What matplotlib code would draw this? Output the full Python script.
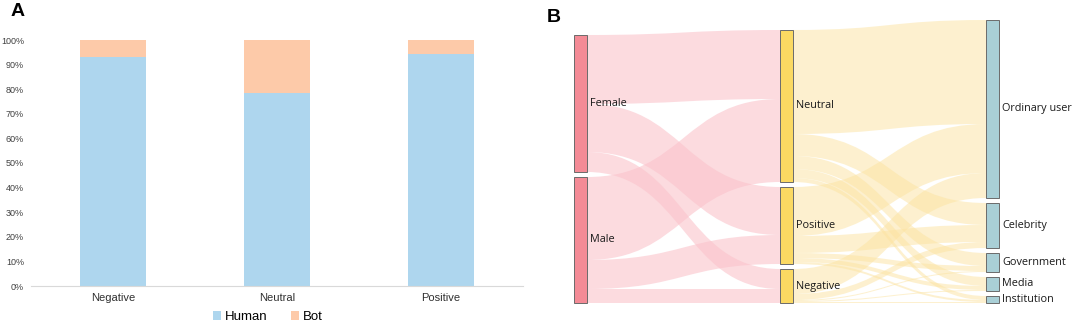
import matplotlib
matplotlib.use("Agg")
import matplotlib.pyplot as plt
from matplotlib.path import Path
from matplotlib.patches import PathPatch, Rectangle
import numpy as np

# Datos panel A
categories = ['Negative', 'Neutral', 'Positive']
human_share = [0.93, 0.785, 0.945]
bot_share = [0.07, 0.215, 0.055]

# Datos panel B (sankey)
genders = ['Female', 'Male']
sentiments = ['Neutral', 'Positive', 'Negative']
user_types = ['Ordinary user', 'Celebrity', 'Government', 'Media', 'Institution']
gender_to_sent = [[69, 48, 20],
                  [83, 29, 14]]
sent_to_user = [[104, 22, 13, 9, 4],
                [49, 17, 5, 4, 2],
                [25, 6, 1, 1, 1]]

W, H = 1072, 328
fig = plt.figure(figsize=(W / 100, H / 100), dpi=100)
plt.rcParams['font.family'] = ['Open Sans', 'DejaVu Sans']

# ---------- Panel A ----------
ax = fig.add_axes([31 / W, 1 - 286 / H, 492 / W, 246 / H])
x = np.arange(len(categories))
ax.bar(x, human_share, width=0.4, color='#aed6ee', label='Human')
ax.bar(x, bot_share, bottom=human_share, width=0.4, color='#fdcaa9', label='Bot')
ax.set_xlim(-0.5, 2.5)
ax.set_ylim(0, 1)
ax.set_yticks(np.arange(0, 1.01, 0.1))
ax.set_yticklabels([f'{int(round(v * 100))}%' for v in np.arange(0, 1.01, 0.1)],
                   fontsize=6.5, color='#404040', family=['Liberation Sans', 'DejaVu Sans'])
ax.set_xticks(x)
ax.set_xticklabels(categories, fontsize=8, color='#303030', family=['Liberation Sans', 'DejaVu Sans'])
ax.tick_params(length=0, pad=5)
for s in ['top', 'right', 'left']:
    ax.spines[s].set_visible(False)
ax.spines['bottom'].set_color('#d9d9d9')
fig.legend(loc='center', bbox_to_anchor=(268 / W, 1 - 317 / H), ncol=2, frameon=False,
           prop={'family': ['Liberation Sans', 'DejaVu Sans'], 'size': 9.5},
           handlelength=0.6, handleheight=0.6, handletextpad=0.3, columnspacing=1.8)

fig.text(18 / W, 1 - 11 / H, 'A', fontsize=14, fontweight='bold', ha='center', va='center',
         family=['Liberation Sans', 'DejaVu Sans'])
fig.text(554 / W, 1 - 18 / H, 'B', fontsize=14, fontweight='bold', ha='center', va='center',
         family=['Liberation Sans', 'DejaVu Sans'])

# ---------- Panel B ----------
bx = fig.add_axes([548 / W, 0, 524 / W, 1])
bx.set_xlim(548, 1072)
bx.set_ylim(328, 0)
bx.axis('off')

col_x = [574, 780, 986]
node_w = 13
bottom = 303
gap = 5

def layout(values):
    # nodos alineados abajo
    total = sum(values) + gap * (len(values) - 1)
    top = bottom - total
    pos = []
    for v in values:
        pos.append((top, top + v))
        top += v + gap
    return pos

g_vals = [sum(r) for r in gender_to_sent]
s_vals = [sum(gender_to_sent[i][j] for i in range(2)) for j in range(3)]
u_vals = [sum(sent_to_user[i][j] for i in range(3)) for j in range(5)]
g_pos = layout(g_vals)
s_pos = layout(s_vals)
u_pos = layout(u_vals)

def draw_links(flows, src_pos, dst_pos, x0, x1, color, alpha):
    n_src, n_dst = len(flows), len(flows[0])
    src_off = [p[0] for p in src_pos]
    dst_off = [p[0] for p in dst_pos]
    # orden en origen por destino, en destino por origen
    src_y = {}
    for i in range(n_src):
        for j in range(n_dst):
            src_y[(i, j)] = src_off[i]
            src_off[i] += flows[i][j]
    for j in range(n_dst):
        for i in range(n_src):
            v = flows[i][j]
            ys = src_y[(i, j)]
            yd = dst_off[j]
            dst_off[j] += v
            xm = (x0 + x1) / 2
            verts = [(x0, ys), (xm, ys), (xm, yd), (x1, yd),
                     (x1, yd + v), (xm, yd + v), (xm, ys + v), (x0, ys + v), (x0, ys)]
            codes = [Path.MOVETO, Path.CURVE4, Path.CURVE4, Path.CURVE4,
                     Path.LINETO, Path.CURVE4, Path.CURVE4, Path.CURVE4, Path.CLOSEPOLY]
            bx.add_patch(PathPatch(Path(verts, codes), facecolor=color, edgecolor='none',
                                   alpha=alpha, zorder=1))

draw_links(gender_to_sent, g_pos, s_pos, col_x[0] + node_w, col_x[1], '#fbc3cb', 0.6)
draw_links(sent_to_user, s_pos, u_pos, col_x[1] + node_w, col_x[2], '#fce3a0', 0.5)

def draw_nodes(pos, names, xc, color):
    for (y0, y1), name in zip(pos, names):
        bx.add_patch(Rectangle((xc, y0), node_w, y1 - y0, facecolor=color,
                               edgecolor='#6b6b6b', linewidth=0.7, zorder=3))
        bx.text(xc + node_w + 3, (y0 + y1) / 2, name, fontsize=7.8, va='center', ha='left',
                color='#1a1a1a', zorder=4)

draw_nodes(g_pos, genders, col_x[0], '#f48b96')
draw_nodes(s_pos, sentiments, col_x[1], '#fbd962')
draw_nodes(u_pos, user_types, col_x[2], '#a9cfd6')

fig.savefig('out.png', dpi=100)
